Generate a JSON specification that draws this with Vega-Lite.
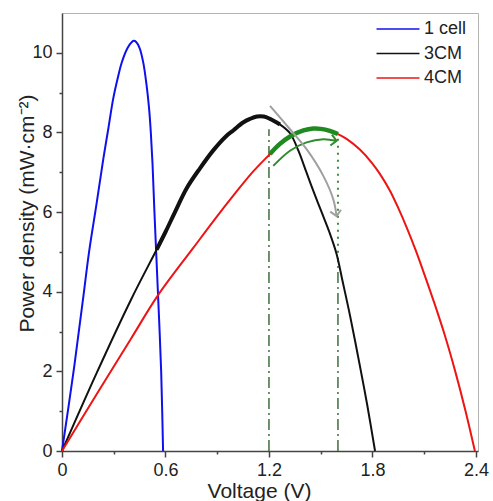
{
  "$schema": "https://vega.github.io/schema/vega-lite/v6.json",
  "width": 416,
  "height": 438,
  "autosize": {"type": "none"},
  "padding": {"left": 62, "top": 13, "right": 15, "bottom": 50},
  "background": "white",
  "config": {
    "view": {"stroke": "#b4b4b4", "strokeWidth": 1},
    "font": "Liberation Sans",
    "axis": {"grid": false}
  },
  "datasets": {
    "curves": [
      {"series": "1 cell", "V": 0, "P": 0},
      {"series": "1 cell", "V": 0.067, "P": 2.0},
      {"series": "1 cell", "V": 0.12, "P": 3.75},
      {"series": "1 cell", "V": 0.157, "P": 5.0},
      {"series": "1 cell", "V": 0.2, "P": 6.2},
      {"series": "1 cell", "V": 0.24, "P": 7.35},
      {"series": "1 cell", "V": 0.268, "P": 8.08},
      {"series": "1 cell", "V": 0.297, "P": 8.85},
      {"series": "1 cell", "V": 0.325, "P": 9.4},
      {"series": "1 cell", "V": 0.346, "P": 9.75},
      {"series": "1 cell", "V": 0.38, "P": 10.12},
      {"series": "1 cell", "V": 0.405, "P": 10.27},
      {"series": "1 cell", "V": 0.417, "P": 10.3},
      {"series": "1 cell", "V": 0.43, "P": 10.27},
      {"series": "1 cell", "V": 0.45, "P": 10.12},
      {"series": "1 cell", "V": 0.471, "P": 9.76},
      {"series": "1 cell", "V": 0.49, "P": 9.2},
      {"series": "1 cell", "V": 0.505, "P": 8.6},
      {"series": "1 cell", "V": 0.515, "P": 8.0},
      {"series": "1 cell", "V": 0.525, "P": 7.2},
      {"series": "1 cell", "V": 0.535, "P": 6.1},
      {"series": "1 cell", "V": 0.545, "P": 5.1},
      {"series": "1 cell", "V": 0.556, "P": 4.0},
      {"series": "1 cell", "V": 0.566, "P": 3.0},
      {"series": "1 cell", "V": 0.575, "P": 2.0},
      {"series": "1 cell", "V": 0.581, "P": 1.0},
      {"series": "1 cell", "V": 0.586, "P": 0},
      {"series": "3CM", "V": 0, "P": 0},
      {"series": "3CM", "V": 0.2, "P": 1.95},
      {"series": "3CM", "V": 0.4, "P": 3.8},
      {"series": "3CM", "V": 0.549, "P": 5.06},
      {"series": "3CM", "V": 0.6, "P": 5.5},
      {"series": "3CM", "V": 0.655, "P": 6.0},
      {"series": "3CM", "V": 0.723, "P": 6.6},
      {"series": "3CM", "V": 0.8, "P": 7.1},
      {"series": "3CM", "V": 0.877, "P": 7.55},
      {"series": "3CM", "V": 0.95, "P": 7.9},
      {"series": "3CM", "V": 0.993, "P": 8.05},
      {"series": "3CM", "V": 1.05, "P": 8.25},
      {"series": "3CM", "V": 1.09, "P": 8.34},
      {"series": "3CM", "V": 1.13, "P": 8.4},
      {"series": "3CM", "V": 1.17, "P": 8.4},
      {"series": "3CM", "V": 1.206, "P": 8.34},
      {"series": "3CM", "V": 1.264, "P": 8.2},
      {"series": "3CM", "V": 1.322, "P": 7.98},
      {"series": "3CM", "V": 1.37, "P": 7.55},
      {"series": "3CM", "V": 1.418, "P": 6.99},
      {"series": "3CM", "V": 1.46, "P": 6.5},
      {"series": "3CM", "V": 1.506, "P": 5.99},
      {"series": "3CM", "V": 1.55, "P": 5.5},
      {"series": "3CM", "V": 1.592, "P": 4.95},
      {"series": "3CM", "V": 1.625, "P": 4.3},
      {"series": "3CM", "V": 1.67, "P": 3.4},
      {"series": "3CM", "V": 1.728, "P": 2.12},
      {"series": "3CM", "V": 1.77, "P": 1.15},
      {"series": "3CM", "V": 1.815, "P": 0},
      {"series": "4CM", "V": 0, "P": 0},
      {"series": "4CM", "V": 0.2, "P": 1.42},
      {"series": "4CM", "V": 0.4, "P": 2.82},
      {"series": "4CM", "V": 0.558, "P": 3.92},
      {"series": "4CM", "V": 0.761, "P": 5.1},
      {"series": "4CM", "V": 0.9, "P": 5.9},
      {"series": "4CM", "V": 1.0, "P": 6.45},
      {"series": "4CM", "V": 1.1, "P": 6.98},
      {"series": "4CM", "V": 1.206, "P": 7.46},
      {"series": "4CM", "V": 1.26, "P": 7.7},
      {"series": "4CM", "V": 1.322, "P": 7.9},
      {"series": "4CM", "V": 1.4, "P": 8.05},
      {"series": "4CM", "V": 1.457, "P": 8.1},
      {"series": "4CM", "V": 1.5, "P": 8.09},
      {"series": "4CM", "V": 1.553, "P": 8.04},
      {"series": "4CM", "V": 1.6, "P": 7.96},
      {"series": "4CM", "V": 1.65, "P": 7.84},
      {"series": "4CM", "V": 1.727, "P": 7.57},
      {"series": "4CM", "V": 1.8, "P": 7.22},
      {"series": "4CM", "V": 1.843, "P": 6.96},
      {"series": "4CM", "V": 1.9, "P": 6.55},
      {"series": "4CM", "V": 1.95, "P": 6.1},
      {"series": "4CM", "V": 2.0, "P": 5.6},
      {"series": "4CM", "V": 2.05, "P": 5.05},
      {"series": "4CM", "V": 2.1, "P": 4.45},
      {"series": "4CM", "V": 2.16, "P": 3.7},
      {"series": "4CM", "V": 2.22, "P": 2.9},
      {"series": "4CM", "V": 2.28, "P": 2.0},
      {"series": "4CM", "V": 2.34, "P": 1.0},
      {"series": "4CM", "V": 2.394, "P": 0}
    ],
    "greenseg": [
      {"V": 1.206, "P": 7.46},
      {"V": 1.26, "P": 7.7},
      {"V": 1.322, "P": 7.9},
      {"V": 1.4, "P": 8.05},
      {"V": 1.457, "P": 8.1},
      {"V": 1.5, "P": 8.09},
      {"V": 1.553, "P": 8.04},
      {"V": 1.6, "P": 7.96}
    ],
    "greenarrow": [
      {"V": 1.225, "P": 7.16},
      {"V": 1.322, "P": 7.54},
      {"V": 1.418, "P": 7.75},
      {"V": 1.515, "P": 7.83},
      {"V": 1.59, "P": 7.79}
    ],
    "greyarrow": [
      {"V": 1.206, "P": 8.67},
      {"V": 1.322, "P": 8.08},
      {"V": 1.418, "P": 7.58},
      {"V": 1.515, "P": 6.91},
      {"V": 1.573, "P": 6.32},
      {"V": 1.592, "P": 5.9}
    ],
    "heads": [
      {"arrow": "green", "V": 1.592, "P": 7.79},
      {"arrow": "grey", "V": 1.592, "P": 5.9}
    ],
    "vlines": [
      {"kind": "dashdot", "V": 1.2, "P0": 0, "P1": 8.08},
      {"kind": "dashdot", "V": 1.6, "P0": 0, "P1": 4.8},
      {"kind": "dotted", "V": 1.6, "P0": 4.8, "P1": 7.85}
    ]
  },
  "layer": [
    {
      "data": {"name": "vlines"},
      "transform": [{"filter": "datum.kind == 'dashdot'"}],
      "mark": {"type": "rule", "color": "#3e6e3e", "strokeWidth": 1.5, "strokeDash": [11, 4, 2, 4]},
      "encoding": {
        "x": {"field": "V", "type": "quantitative", "scale": {"domain": [0, 2.412], "nice": false, "zero": false}, "axis": null},
        "y": {"field": "P0", "type": "quantitative", "scale": {"domain": [0, 11], "nice": false}, "axis": null},
        "y2": {"field": "P1"}
      }
    },
    {
      "data": {"name": "vlines"},
      "transform": [{"filter": "datum.kind == 'dotted'"}],
      "mark": {"type": "rule", "color": "#3e8a3e", "strokeWidth": 2, "strokeDash": [2, 5]},
      "encoding": {
        "x": {"field": "V", "type": "quantitative", "axis": null},
        "y": {"field": "P0", "type": "quantitative", "axis": null},
        "y2": {"field": "P1"}
      }
    },
    {
      "data": {"name": "curves"},
      "mark": {"type": "line", "strokeWidth": 2, "interpolate": "catmull-rom"},
      "encoding": {
        "x": {
          "field": "V", "type": "quantitative",
          "axis": {
            "orient": "bottom",
            "values": [0, 0.6, 1.2, 1.8, 2.4], "format": "~g",
            "title": "Voltage (V)", "titleFontSize": 21, "titleFontWeight": "normal",
            "titleColor": "#222", "titleX": 197, "titleY": 46, "titleBaseline": "alphabetic", "titleAlign": "center",
            "labelFontSize": 18, "labelColor": "#222", "labelPadding": 4,
            "tickSize": 6, "tickWidth": 1.5, "tickColor": "#444",
            "domainColor": "#444", "domainWidth": 1.5, "labelFlush": false
          }
        },
        "y": {
          "field": "P", "type": "quantitative",
          "axis": {
            "orient": "left",
            "values": [0, 2, 4, 6, 8, 10],
            "title": "Power density (mW·cm⁻²)", "titleFontSize": 21, "titleFontWeight": "normal",
            "titleColor": "#222", "titleX": -29, "titleY": 200, "titleAngle": -90, "titleBaseline": "alphabetic", "titleAlign": "center",
            "labelFontSize": 18, "labelColor": "#222", "labelPadding": 4,
            "tickSize": 6, "tickWidth": 1.5, "tickColor": "#444",
            "domainColor": "#444", "domainWidth": 1.5, "labelFlush": false
          }
        },
        "color": {
          "field": "series", "type": "nominal",
          "scale": {"domain": ["1 cell", "3CM", "4CM"], "range": ["#1010ee", "#111111", "#ee1414"]},
          "legend": {
            "orient": "none", "legendX": 327, "legendY": 7, "title": null,
            "symbolType": "M-3,0H3", "symbolSize": 205, "symbolStrokeWidth": 1.5,
            "labelFontSize": 18, "labelColor": "#222", "labelOffset": 17, "rowPadding": 6.5, "padding": 0
          }
        }
      }
    },
    {
      "data": {"name": "curves"},
      "transform": [{"filter": "datum.series == '3CM' && datum.V >= 0.54 && datum.V <= 1.27"}],
      "mark": {"type": "line", "strokeWidth": 4, "color": "#111111", "interpolate": "catmull-rom"},
      "encoding": {
        "x": {"field": "V", "type": "quantitative", "axis": null},
        "y": {"field": "P", "type": "quantitative", "axis": null}
      }
    },
    {
      "data": {"name": "greenseg"},
      "mark": {"type": "line", "strokeWidth": 4.5, "color": "#1f8a1f", "interpolate": "catmull-rom"},
      "encoding": {
        "x": {
          "field": "V", "type": "quantitative",
          "axis": {"orient": "bottom", "values": [0.3, 0.9, 1.5, 2.1], "labels": false, "domain": false, "title": null, "tickSize": 3, "tickWidth": 1.5, "tickColor": "#444"}
        },
        "y": {
          "field": "P", "type": "quantitative",
          "axis": {"orient": "left", "values": [1, 3, 5, 7, 9], "labels": false, "domain": false, "title": null, "tickSize": 3, "tickWidth": 1.5, "tickColor": "#444"}
        }
      }
    },
    {
      "data": {"name": "greenarrow"},
      "mark": {"type": "line", "strokeWidth": 2, "color": "#2e8b2e", "interpolate": "catmull-rom"},
      "encoding": {
        "x": {"field": "V", "type": "quantitative", "axis": null},
        "y": {"field": "P", "type": "quantitative", "axis": null}
      }
    },
    {
      "data": {"name": "greyarrow"},
      "mark": {"type": "line", "strokeWidth": 2, "color": "#a0a0a0", "interpolate": "catmull-rom"},
      "encoding": {
        "x": {"field": "V", "type": "quantitative", "axis": null},
        "y": {"field": "P", "type": "quantitative", "axis": null}
      }
    },
    {
      "data": {"name": "heads"},
      "transform": [{"filter": "datum.arrow == 'green'"}],
      "mark": {"type": "point", "shape": "M-1,-1L0,0L-1,1", "filled": false, "stroke": "#2e8b2e", "strokeWidth": 2, "size": 120, "angle": 8, "opacity": 1},
      "encoding": {
        "x": {"field": "V", "type": "quantitative", "axis": null},
        "y": {"field": "P", "type": "quantitative", "axis": null}
      }
    },
    {
      "data": {"name": "heads"},
      "transform": [{"filter": "datum.arrow == 'grey'"}],
      "mark": {"type": "point", "shape": "M-1,-1L0,0L-1,1", "filled": false, "stroke": "#a0a0a0", "strokeWidth": 2, "size": 120, "angle": 80, "opacity": 1},
      "encoding": {
        "x": {"field": "V", "type": "quantitative", "axis": null},
        "y": {"field": "P", "type": "quantitative", "axis": null}
      }
    }
  ],
  "resolve": {"axis": {"x": "independent", "y": "independent"}}
}
